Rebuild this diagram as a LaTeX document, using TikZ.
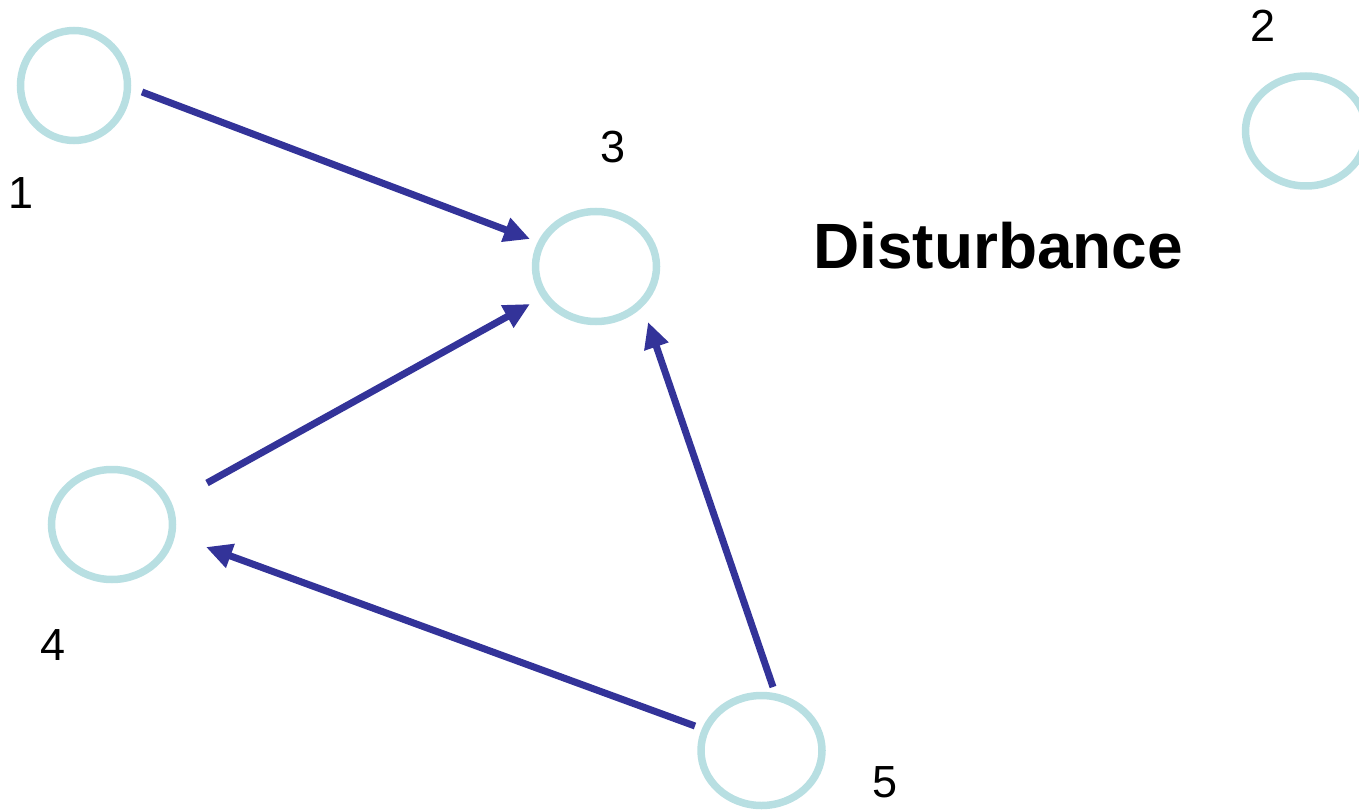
\documentclass[tikz,border=0pt]{standalone}
\usepackage{fontspec}
\setmainfont{Liberation Sans}
\usetikzlibrary{arrows.meta,shapes.geometric}
\definecolor{ring}{RGB}{184,223,226}
\definecolor{arrowblue}{RGB}{51,51,153}
\tikzset{
  ringnode/.style={ellipse,draw=ring,line width=7.5pt,inner sep=0pt,minimum width=121pt,minimum height=110pt},
  num/.style={font=\fontsize{45}{45}\selectfont,inner sep=0pt},
  link/.style={draw=arrowblue,line width=7pt,-{Triangle[length=26pt,width=24pt]}}
}
\begin{document}
\begin{tikzpicture}[x=1pt,y=-1pt]
\useasboundingbox (0,0) rectangle (1359,810);
\node[ringnode,minimum width=107pt,minimum height=110pt] (c1) at (74,85.5) {};
\node[ringnode] (c2) at (1306,131) {};
\node[ringnode] (c3) at (596,266.5) {};
\node[ringnode] (c4) at (112,524.5) {};
\node[ringnode] (c5) at (761.5,750.5) {};
\node[num] (l1) at (21,193) {1};
\node[num] (l2) at (1263,26) {2};
\node[num] (l3) at (613,147) {3};
\node[num] (l4) at (53,645) {4};
\node[num] (l5) at (885,782) {5};
\node[font=\bfseries\fontsize{64}{64}\selectfont,inner sep=0pt,anchor=base west] (dist) at (813,269) {Disturbance};
\coordinate (a1s) at (142,92);
\coordinate (a1e) at (530,239);
\coordinate (a2s) at (207,483);
\coordinate (a2e) at (530,304);
\coordinate (a3s) at (773,687);
\coordinate (a3e) at (648,322);
\coordinate (a4s) at (695,726);
\coordinate (a4e) at (206,547);
\draw[link] (a1s) -- (a1e);
\draw[link] (a2s) -- (a2e);
\draw[link] (a3s) -- (a3e);
\draw[link] (a4s) -- (a4e);
\end{tikzpicture}
\end{document}
